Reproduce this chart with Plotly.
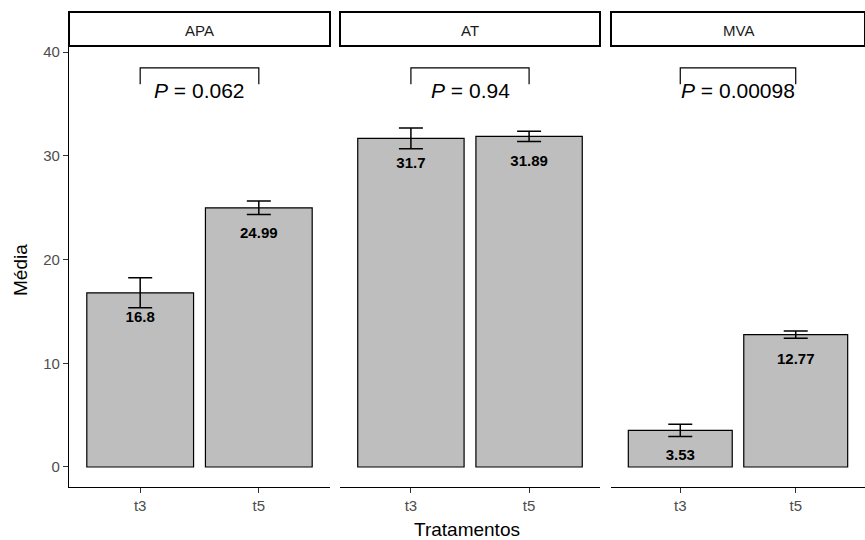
import plotly.graph_objects as go

# ---- data ----
panels = ["APA", "AT", "MVA"]
treatments = ["t3", "t5"]
means = {"APA": [16.8, 24.99], "AT": [31.7, 31.89], "MVA": [3.53, 12.77]}
errors = {"APA": [1.45, 0.65], "AT": [1.0, 0.5], "MVA": [0.6, 0.35]}
pvalues = {"APA": "0.062", "AT": "0.94", "MVA": "0.00098"}
y_ticks = [0, 10, 20, 30, 40]
bracket_y = 38.5
bracket_tick = 1.6
p_label_y = 36.3
label_offset = 2.5

W, H = 865, 540
FONT = "Liberation Sans, Arial, sans-serif"
panel_px = [(69, 330), (340, 600), (611, 865)]
y_top_px, y_bot_px = 46, 487
ydom = [(H - y_bot_px) / H, (H - y_top_px) / H]
yrange = [-1.93, 40.6]

fig = go.Figure()
shapes = []
annotations = []

for i, p in enumerate(panels):
    ax = "" if i == 0 else str(i + 1)
    xref, yref = "x" + ax, "y" + ax
    fig.add_trace(go.Bar(
        x=treatments, y=means[p], width=0.9,
        marker=dict(color="#BEBEBE", line=dict(color="black", width=1.2)),
        error_y=dict(type="data", array=errors[p], visible=True,
                     color="black", thickness=1.5, width=12),
        xaxis=xref, yaxis=yref, showlegend=False, hoverinfo="skip"))
    fig.add_trace(go.Scatter(
        x=treatments, y=[m - label_offset for m in means[p]],
        text=["<b>%s</b>" % ("%g" % m) for m in means[p]],
        mode="text", textfont=dict(family=FONT, size=15, color="black"),
        xaxis=xref, yaxis=yref, showlegend=False, hoverinfo="skip"))
    x0, x1 = panel_px[i]
    dom = [x0 / W, x1 / W]
    xa = dict(domain=dom, range=[-0.6, 1.6], type="category",
              showline=True, linecolor="black", linewidth=1.3,
              ticks="outside", ticklen=5, tickcolor="#333333", tickwidth=1.2,
              tickfont=dict(family=FONT, size=15, color="#4D4D4D"),
              showgrid=False, zeroline=False, fixedrange=True,
              anchor=yref, automargin=False)
    ya = dict(domain=ydom, range=yrange, showgrid=False, zeroline=False,
              anchor=xref, fixedrange=True, automargin=False)
    if i == 0:
        ya.update(showline=True, linecolor="black", linewidth=1.3,
                  ticks="outside", ticklen=5, tickcolor="#333333", tickwidth=1.2,
                  tickvals=y_ticks, ticktext=[str(t) for t in y_ticks],
                  tickfont=dict(family=FONT, size=15, color="#4D4D4D"))
    else:
        ya.update(showticklabels=False, showline=False, ticks="", matches="y")
    fig.layout["xaxis" + ax] = xa
    fig.layout["yaxis" + ax] = ya

    # strip box
    shapes.append(dict(type="rect", xref="paper", yref="paper",
                       x0=x0 / W, x1=x1 / W, y0=(H - 46) / H, y1=(H - 12) / H,
                       line=dict(color="black", width=2), fillcolor="white"))
    annotations.append(dict(text=p, xref="paper", yref="paper",
                            x=(x0 + x1) / 2 / W, y=(H - 30) / H,
                            showarrow=False, xanchor="center", yanchor="middle",
                            font=dict(family=FONT, size=15, color="#1A1A1A")))
    # p-value bracket (category indices 0 and 1)
    shapes.append(dict(type="path", xref=xref, yref=yref,
                       path="M 0,{b} L 0,{a} L 1,{a} L 1,{b}".format(
                           a=bracket_y, b=bracket_y - bracket_tick),
                       line=dict(color="black", width=1.2)))
    annotations.append(dict(text="<i>P</i> = " + pvalues[p], xref=xref, yref=yref,
                            x=0.5, y=p_label_y, showarrow=False,
                            xanchor="center", yanchor="middle",
                            font=dict(family=FONT, size=21, color="black")))

# axis titles
annotations.append(dict(text="Tratamentos", xref="paper", yref="paper",
                        x=467 / W, y=(H - 529) / H, showarrow=False,
                        xanchor="center", yanchor="middle",
                        font=dict(family=FONT, size=19, color="black")))
annotations.append(dict(text="Média", xref="paper", yref="paper",
                        x=20 / W, y=(H - 270) / H, showarrow=False, textangle=-90,
                        xanchor="center", yanchor="middle",
                        font=dict(family=FONT, size=19, color="black")))

fig.update_layout(width=W, height=H, margin=dict(l=0, r=0, t=0, b=0),
                  plot_bgcolor="white", paper_bgcolor="white",
                  shapes=shapes, annotations=annotations, bargap=0.1,
                  font=dict(family=FONT))
fig.write_html("out.html", config={"displayModeBar": False},
               post_script="document.body.style.margin='0';document.body.style.padding='0';")
